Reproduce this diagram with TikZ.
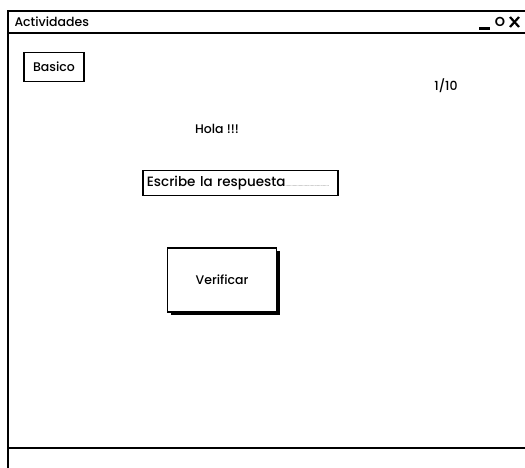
\documentclass[tikz,border=0pt]{standalone}
\usepackage{fontspec}
\setmainfont{Poppins}[UprightFont=* Medium,BoldFont=* SemiBold]
\usepackage{tikz}
\usetikzlibrary{positioning}

\begin{document}
\begin{tikzpicture}[x=1pt,y=-1pt]
\useasboundingbox (0,0) rectangle (525,468);
% window frame
\draw[line width=1.6pt] (8,11) rectangle (530,33);
\draw[line width=1.6pt] (8,33) -- (8,470);
\draw[line width=1.4pt] (8,448) -- (530,448);

\begin{scope}[every node/.style={font=\fontsize{12.5}{14}\selectfont}]
    \node[anchor=west] (title) at (11,22) {Actividades};
    \node (count) at (446,86) {1/10};
    \node (hola) at (217,129) {Hola !!!};
\end{scope}

% window controls
\draw[line width=3pt] (479,28.5) -- (490,28.5);
\node[font=\bfseries\fontsize{13}{14}\selectfont] (maxim) at (500,22) {O};
\draw[line width=2.2pt] (510,17) -- (519,27);
\draw[line width=2.2pt] (519,17) -- (510,27);

\begin{scope}[every node/.style={draw,line width=1.8pt,font=\fontsize{12.5}{14}\selectfont,inner sep=0pt}]
    \node[minimum width=60pt,minimum height=29pt] (basico) at (54,67) {Basico};
    \node[minimum width=195pt,minimum height=25pt,anchor=west,text width=191pt,align=left,
          font=\fontsize{13.5}{15}\selectfont] (resp) at (142,183)
        {\hspace*{2pt}Escribe la respuesta{\color{gray}\fontsize{5}{6}\selectfont....................................}};
\end{scope}

% button with shadow
\fill (171,251) rectangle (280,315);
\node[draw,fill=white,line width=1.4pt,minimum width=109pt,minimum height=64pt,inner sep=0pt,
      font=\fontsize{12.5}{14}\selectfont] (verificar) at (222,280) {Verificar};
\end{tikzpicture}
\end{document}
